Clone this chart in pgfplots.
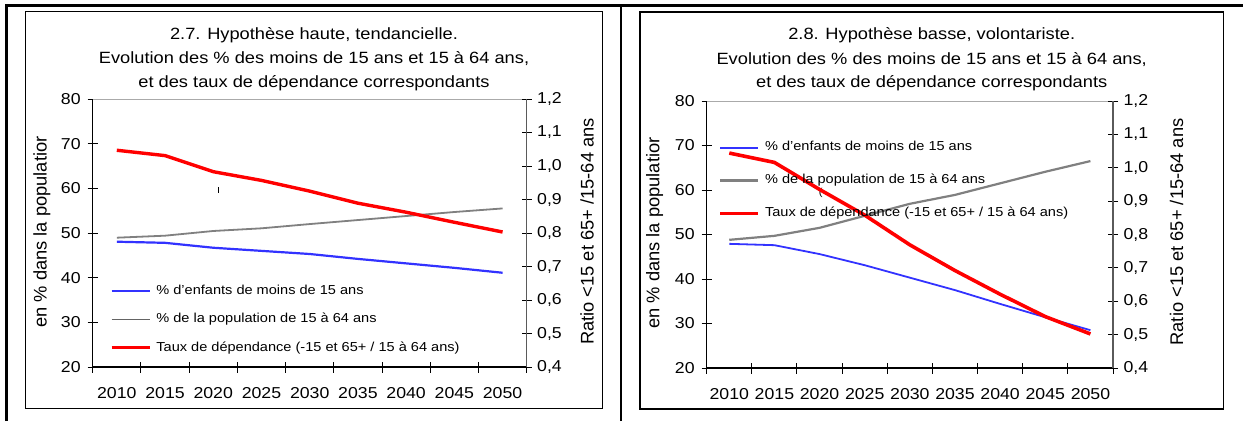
\documentclass[border=0pt]{standalone}
\usepackage{fontspec}
\setmainfont{Liberation Sans}[FakeStretch=1.12]
\newfontfamily\labfont{Liberation Sans}
\usepackage{pgfplots}
\usepackage{pgfplotstable}
\pgfplotsset{compat=1.18}
\definecolor{cblue}{RGB}{50,50,255}
\definecolor{cgray}{RGB}{128,128,128}
\definecolor{dgray}{RGB}{100,100,100}
\definecolor{cred}{RGB}{255,0,0}
\definecolor{raxis}{RGB}{90,90,90}
\definecolor{topline}{RGB}{170,170,170}

\pgfplotstableread{
year u15 a1564 ratio
2010 48.05 48.95 1.047
2015 47.80 49.40 1.031
2020 46.70 50.45 0.983
2025 46.00 51.05 0.957
2030 45.30 52.00 0.925
2035 44.20 52.90 0.889
2040 43.20 53.80 0.862
2045 42.20 54.70 0.832
2050 41.10 55.50 0.803
}\tableA

\pgfplotstableread{
year u15 a1564 ratio
2010 47.90 48.80 1.044
2015 47.60 49.70 1.016
2020 45.60 51.50 0.935
2025 43.10 54.20 0.858
2030 40.30 56.90 0.769
2035 37.50 58.90 0.692
2040 34.40 61.50 0.621
2045 31.40 64.10 0.554
2050 28.50 66.50 0.502
}\tableB

\pgfplotsset{
  base/.style={
    scale only axis,
    xmin=2007.5, xmax=2052.5,
    axis line style={-},
    tick align=center,
    major tick length=10pt,
    minor tick length=11pt,
    tick style={black, line width=1pt},
    tick label style={font=\fontsize{15.8}{16}\selectfont},
  },
  leftax/.style={
    base,
    ymin=20, ymax=80,
    ytick={20,30,40,50,60,70,80},
    yticklabels={20,30,40,50,60,70,80},
    axis x line*=bottom, axis y line*=left,
    x axis line style={black, line width=1.2pt},
    y axis line style={black, line width=1.2pt},
    xtick={2010,2015,2020,2025,2030,2035,2040,2045,2050},
    xticklabels={2010,2015,2020,2025,2030,2035,2040,2045,2050},
    minor xtick={2007.5,2012.5,2017.5,2022.5,2027.5,2032.5,2037.5,2042.5,2047.5,2052.5},
    major x tick style={draw=none},
    xticklabel style={yshift=-12pt},
    yticklabel style={xshift=-3.5pt},
  },
  rightax/.style={
    base,
    ymin=0.4, ymax=1.2,
    ytick={0.4,0.5,0.6,0.7,0.8,0.9,1.0,1.1,1.2},
    yticklabels={{0,4},{0,5},{0,6},{0,7},{0,8},{0,9},{1,0},{1,1},{1,2}},
    axis x line=none, axis y line*=right,
    y axis line style={raxis, line width=1.4pt},
    yticklabel style={xshift=2pt},
    legend image code/.code={\draw[#1] (0pt,0pt) -- (38pt,0pt);},
    legend cell align=left,
  },
}

\begin{document}
\begin{tikzpicture}
\useasboundingbox (0pt,0pt) rectangle (1243pt,421pt);
% outer frames
\draw[line width=2.6pt] (6.7pt,0pt) -- (6.7pt,415.5pt) -- (1243pt,415.5pt);
\draw[line width=2.6pt] (621pt,0pt) -- (621pt,415.5pt);
\draw[line width=1.2pt] (25.7pt,12.3pt) rectangle (602.3pt,409.3pt);
\draw[line width=1.2pt] (640pt,12pt) rectangle (1223.3pt,409pt);

% ---------------- Panel 1 ----------------
\node[anchor=base, font=\fontsize{16.3}{17}\selectfont] at (314pt,381.7pt) {2.7. Hypoth\`ese haute, tendancielle.};
\node[anchor=base, font=\fontsize{16.3}{17}\selectfont] at (314pt,357pt) {Evolution des \% des moins de 15 ans et 15 \`a 64 ans,};
\node[anchor=base, font=\fontsize{16.3}{17}\selectfont] at (314pt,333.7pt) {et des taux de d\'ependance correspondants};
\node[rotate=90, font=\labfont\fontsize{18.3}{19}\selectfont] at (42pt,189pt) {en \% dans la populatior};
\node[rotate=90, font=\labfont\fontsize{18.3}{19}\selectfont] at (587pt,189.5pt) {Ratio <15 et 65+ /15-64 ans};
\node[inner sep=0pt] at (218.3pt,231pt) {\rule{1.2pt}{5.5pt}};

\begin{axis}[leftax, at={(92.7pt,54pt)}, anchor=south west, width=434pt, height=268pt]
  \draw[topline, line width=1.2pt] (rel axis cs:0,1) -- (rel axis cs:1,1);
  \addplot[cblue, line width=2.2pt] table[x=year, y=u15] {\tableA};
  \addplot[cgray, line width=1.8pt] table[x=year, y=a1564] {\tableA};
\end{axis}
\begin{axis}[rightax, at={(92.7pt,54pt)}, anchor=south west, width=434pt, height=268pt,
  legend style={draw=none, fill=none, inner sep=0pt, at={(0.0394,0.307)}, anchor=north west,
    font=\fontsize{13}{13}\selectfont, row sep=15.8pt,
    nodes={inner sep=0pt, text height=9.5pt, text depth=3pt},
    /tikz/every odd column/.append style={column sep=5pt}}]
  \addlegendimage{cblue, line width=2.6pt}
  \addlegendentry{\% d'enfants de moins de 15 ans}
  \addlegendimage{dgray, line width=1.3pt}
  \addlegendentry{\% de la population de 15 \`a 64 ans}
  \addplot[cred, line width=3.4pt] table[x=year, y=ratio] {\tableA};
  \addlegendentry{Taux de d\'ependance (-15 et 65+ / 15 \`a 64 ans)}
\end{axis}

% ---------------- Panel 2 ----------------
\node[anchor=base, font=\fontsize{16.3}{17}\selectfont] at (931.7pt,381.5pt) {2.8. Hypoth\`ese basse, volontariste.};
\node[anchor=base, font=\fontsize{16.3}{17}\selectfont] at (931.7pt,356.8pt) {Evolution des \% des moins de 15 ans et 15 \`a 64 ans,};
\node[anchor=base, font=\fontsize{16.3}{17}\selectfont] at (931.7pt,333.5pt) {et des taux de d\'ependance correspondants};
\node[rotate=90, font=\labfont\fontsize{18.3}{19}\selectfont] at (654.7pt,188pt) {en \% dans la populatior};
\node[rotate=90, font=\labfont\fontsize{18.3}{19}\selectfont] at (1176.6pt,189pt) {Ratio <15 et 65+ /15-64 ans};
\node[font=\fontsize{10}{10}\selectfont] at (820.7pt,227.7pt) {(};

\begin{axis}[leftax, at={(706.7pt,53pt)}, anchor=south west, width=406.3pt, height=267pt]
  \draw[topline, line width=1.2pt] (rel axis cs:0,1) -- (rel axis cs:1,1);
  \addplot[cblue, line width=1.8pt] table[x=year, y=u15] {\tableB};
  \addplot[cgray, line width=2.2pt] table[x=year, y=a1564] {\tableB};
\end{axis}
\begin{axis}[rightax, at={(706.7pt,53pt)}, anchor=south west, width=406.3pt, height=267pt,
  legend style={draw=none, fill=none, inner sep=0pt, at={(0.0284,0.85)}, anchor=north west,
    font=\fontsize{13}{13}\selectfont, row sep=20.5pt,
    nodes={inner sep=0pt, text height=9.5pt, text depth=3pt},
    /tikz/every odd column/.append style={column sep=5pt}}]
  \addlegendimage{cblue, line width=2pt}
  \addlegendentry{\% d'enfants de moins de 15 ans}
  \addlegendimage{cgray, line width=2.8pt}
  \addlegendentry{\% de la population de 15 \`a 64 ans}
  \addplot[cred, line width=3.6pt] table[x=year, y=ratio] {\tableB};
  \addlegendentry{Taux de d\'ependance (-15 et 65+ / 15 \`a 64 ans)}
\end{axis}
\end{tikzpicture}
\end{document}
